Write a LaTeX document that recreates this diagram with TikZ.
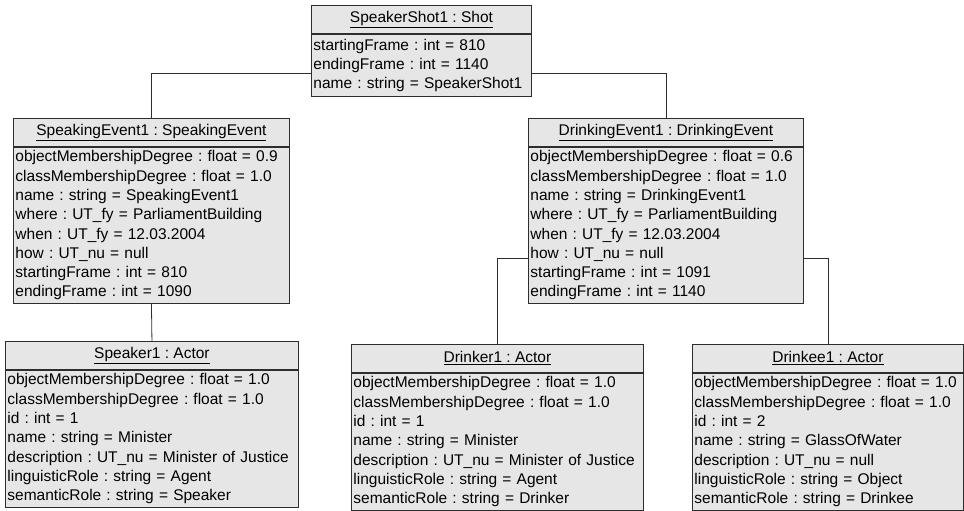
\documentclass[tikz,border=0pt]{standalone}
\usepackage{fontspec}
\setmainfont{Liberation Sans}
\usetikzlibrary{positioning}

\definecolor{boxfill}{RGB}{230,230,230}
\definecolor{boxline}{RGB}{45,45,45}

\frenchspacing

\begin{document}
\begin{tikzpicture}[
    x=1pt, y=-1pt,
    node distance=0pt,
    objhead/.style={
        draw=boxline,
        fill=boxfill,
        line width=0.9pt,
        anchor=north west,
        minimum height=28pt,
        inner sep=0pt,
        font=\fontsize{15.5}{19}\selectfont
    },
    objattr/.style={
        draw=boxline,
        fill=boxfill,
        line width=0.9pt,
        align=left,
        inner xsep=2pt,
        inner ysep=0pt,
        font=\fontsize{15.5}{19.3}\selectfont
    },
    link/.style={
        draw=boxline,
        line width=0.8pt
    }
]
\useasboundingbox (0,0) rectangle (964,511);

\node[objhead, minimum width=220pt] (shot) at (311,5) {\underline{SpeakerShot1 : Shot}};
\node[objattr, text width=216pt, minimum height=62pt, below=of shot] (shotattr) {startingFrame : int = 810\\endingFrame : int = 1140\\name : string = SpeakerShot1};

\node[objhead, minimum width=276pt] (speaking) at (13,118) {\underline{SpeakingEvent1 : SpeakingEvent}};
\node[objattr, text width=272pt, minimum height=156pt, below=of speaking] (speakingattr) {objectMembershipDegree : float = 0.9\\classMembershipDegree : float = 1.0\\name : string = SpeakingEvent1\\where : UT\_fy = ParliamentBuilding\\when : UT\_fy = 12.03.2004\\how : UT\_nu = null\\startingFrame : int = 810\\endingFrame : int = 1090};

\node[objhead, minimum width=275pt] (drinking) at (528,118) {\underline{DrinkingEvent1 : DrinkingEvent}};
\node[objattr, text width=271pt, minimum height=156pt, below=of drinking] (drinkingattr) {objectMembershipDegree : float = 0.6\\classMembershipDegree : float = 1.0\\name : string = DrinkingEvent1\\where : UT\_fy = ParliamentBuilding\\when : UT\_fy = 12.03.2004\\how : UT\_nu = null\\startingFrame : int = 1091\\endingFrame : int = 1140};

\node[objhead, minimum width=293pt] (speaker) at (5,341) {\underline{Speaker1 : Actor}};
\node[objattr, text width=289pt, minimum height=137pt, below=of speaker] (speakerattr) {objectMembershipDegree : float = 1.0\\classMembershipDegree : float = 1.0\\id : int = 1\\name : string = Minister\\description : UT\_nu = Minister of Justice\\linguisticRole : string = Agent\\semanticRole : string = Speaker};

\node[objhead, minimum width=292pt] (drinker) at (351,344) {\underline{Drinker1 : Actor}};
\node[objattr, text width=288pt, minimum height=137pt, below=of drinker] (drinkerattr) {objectMembershipDegree : float = 1.0\\classMembershipDegree : float = 1.0\\id : int = 1\\name : string = Minister\\description : UT\_nu = Minister of Justice\\linguisticRole : string = Agent\\semanticRole : string = Drinker};

\node[objhead, minimum width=271pt] (drinkee) at (692,344) {\underline{Drinkee1 : Actor}};
\node[objattr, text width=267pt, minimum height=137pt, below=of drinkee] (drinkeeattr) {objectMembershipDegree : float = 1.0\\classMembershipDegree : float = 1.0\\id : int = 2\\name : string = GlassOfWater\\description : UT\_nu = null\\linguisticRole : string = Object\\semanticRole : string = Drinkee};

\draw[link] ([yshift=-8pt]shotattr.west) -| (speaking.north);
\draw[link] ([yshift=-8pt]shotattr.east) -| (drinking.north);
\draw[link] (speakingattr.south) -- (speaker.north);
\draw[link] ([yshift=-33pt]drinkingattr.west) -| (drinker.north);
\draw[link] ([yshift=-33pt]drinkingattr.east) -| (drinkee.north);

\end{tikzpicture}
\end{document}
